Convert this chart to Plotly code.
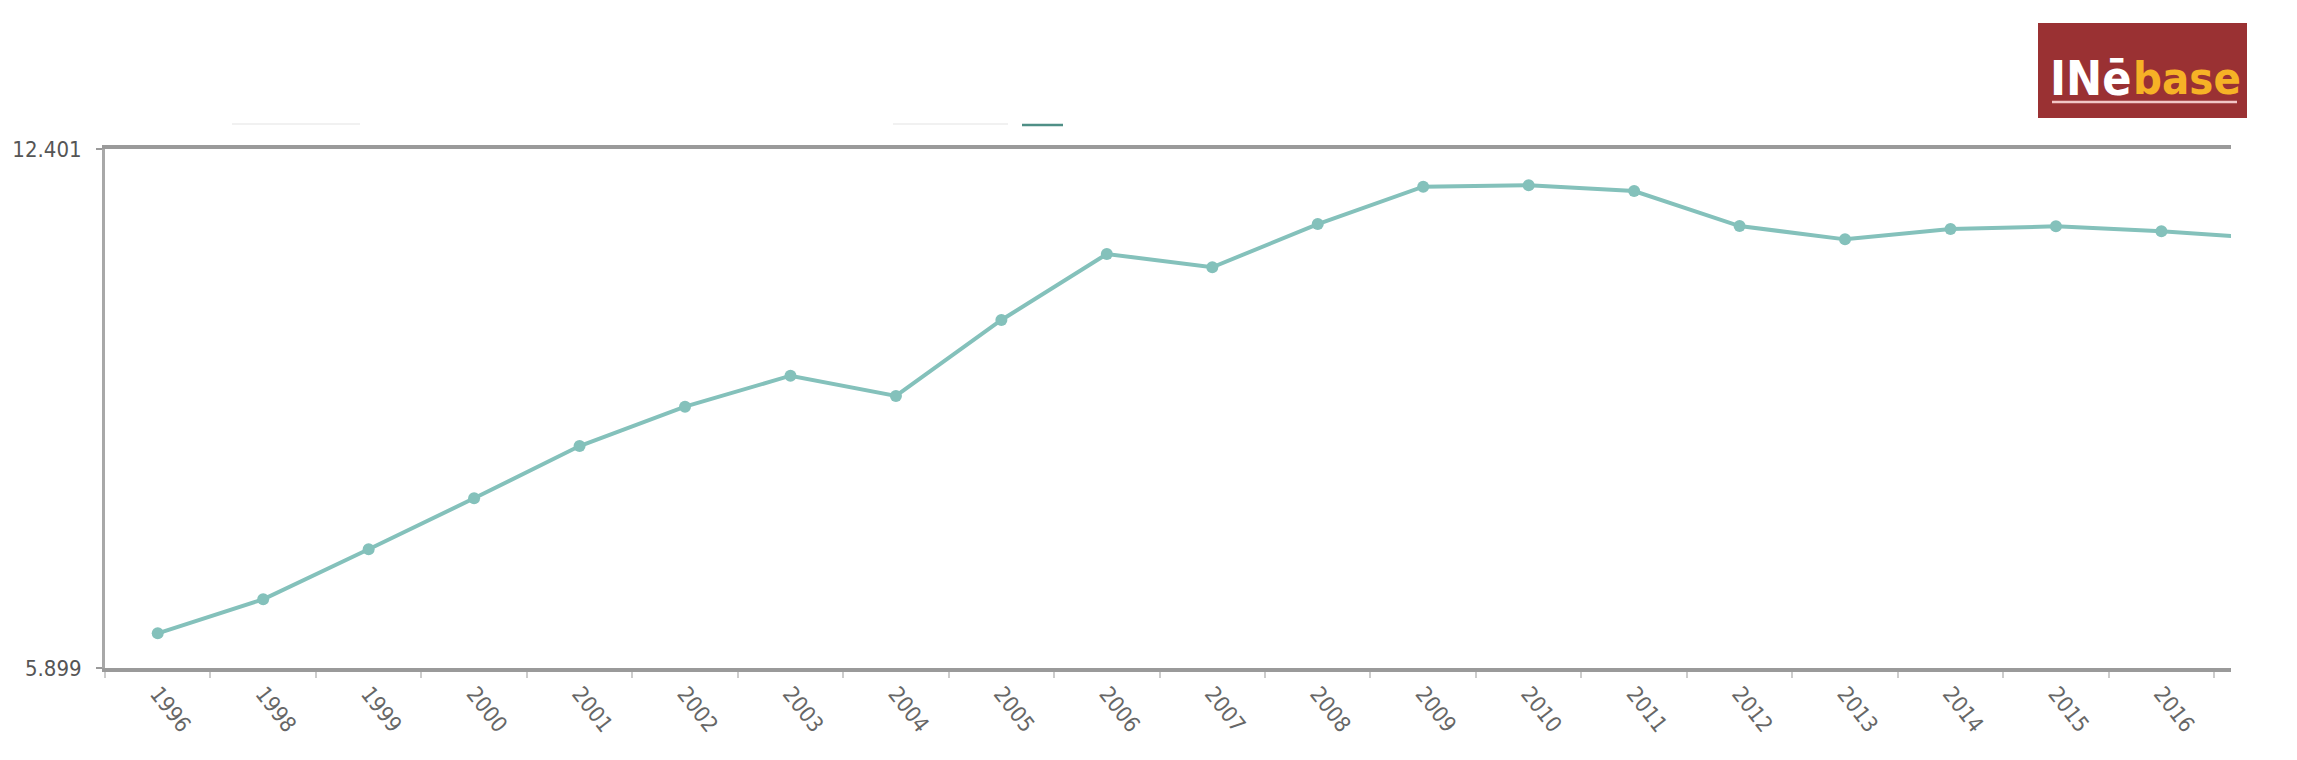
import plotly.graph_objects as go

# series
years = ["1996", "1998", "1999", "2000", "2001", "2002", "2003", "2004", "2005", "2006",
         "2007", "2008", "2009", "2010", "2011", "2012", "2013", "2014", "2015", "2016", "2017"]
values = [6.334, 6.760, 7.386, 8.025, 8.680, 9.173, 9.561, 9.307, 10.259, 11.086,
          10.919, 11.461, 11.929, 11.946, 11.875, 11.436, 11.269, 11.399, 11.432, 11.370, 11.28]
y_min = 5.899
y_max = 12.401
y_ticks = [y_min, y_max]
y_labels = ["5.899", "12.401"]

teal = "#84C1BB"
axis_grey = "#9a9a9a"
font_main = "DejaVu Sans Condensed, Liberation Sans Narrow, DejaVu Sans, sans-serif"

fig = go.Figure()
fig.add_trace(
    go.Scatter(
        x=years,
        y=values,
        mode="lines+markers",
        line=dict(color=teal, width=4),
        marker=dict(color=teal, size=12),
        cliponaxis=True,
        showlegend=False,
    )
)

# plot area in page pixels (page has an 8px body margin)
W, H = 2297, 760
OFF = 8
L, R, T, B = 105, 2231, 149, 668


def px(x):
    return (x - L) / (R - L)


def py(y):
    return (B - y) / (B - T)


shapes = [
    # faint bits above the plot
    dict(type="line", xref="paper", yref="paper", x0=px(232), x1=px(360), y0=py(124), y1=py(124),
         line=dict(color="#ececec", width=1.5)),
    dict(type="line", xref="paper", yref="paper", x0=px(893), x1=px(1008), y0=py(124), y1=py(124),
         line=dict(color="#ececec", width=1.5)),
    dict(type="line", xref="paper", yref="paper", x0=px(1022), x1=px(1063), y0=py(125), y1=py(125),
         line=dict(color="#4f8f86", width=2.5)),
    # INEbase logo box
    dict(type="rect", xref="paper", yref="paper", x0=px(2038), x1=px(2247), y0=py(118), y1=py(23),
         fillcolor="#9A3133", line=dict(width=0), layer="above"),
    dict(type="line", xref="paper", yref="paper", x0=px(2052), x1=px(2237), y0=py(102), y1=py(102),
         line=dict(color="#F2C6C6", width=2.5)),
]

logo_font = "DejaVu Sans Condensed, Liberation Sans, sans-serif"
annotations = [
    dict(text="<b>INē</b>", xref="paper", yref="paper", x=px(2048), y=py(96), xanchor="left", yanchor="bottom",
         showarrow=False, font=dict(family=logo_font, size=48, color="#FFFFFF"), yshift=-12),
    dict(text="<b>base</b>", xref="paper", yref="paper", x=px(2131), y=py(96), xanchor="left", yanchor="bottom",
         showarrow=False, font=dict(family=logo_font, size=45, color="#F6B226"), yshift=-11),
]

fig.update_layout(
    width=W,
    height=H,
    margin=dict(l=L - OFF, r=W - R + OFF, t=T - OFF, b=H - B + OFF, pad=0),
    plot_bgcolor="white",
    paper_bgcolor="white",
    font=dict(family=font_main, size=22, color="#666666"),
    shapes=shapes,
    annotations=annotations,
    showlegend=False,
)

fig.update_xaxes(
    type="category",
    range=[-0.5, 19.66],
    automargin=False,
    showgrid=False,
    zeroline=False,
    showline=True,
    linecolor=axis_grey,
    linewidth=4,
    mirror=True,
    ticks="outside",
    tickson="boundaries",
    ticklen=6,
    tickwidth=1.5,
    tickcolor="#cccccc",
    tickangle=52,
    tickfont=dict(family=font_main, size=22, color="#666666"),
)

fig.update_yaxes(
    range=[y_min, y_max],
    automargin=False,
    tickvals=y_ticks,
    ticktext=y_labels,
    showgrid=False,
    zeroline=False,
    showline=True,
    linecolor="#a8a8a8",
    linewidth=3,
    ticks="outside",
    ticklen=6,
    tickwidth=2,
    tickcolor=axis_grey,
    ticklabelstandoff=10,
    tickfont=dict(family=font_main, size=22, color="#555555"),
)

fig.write_html("out.html")
